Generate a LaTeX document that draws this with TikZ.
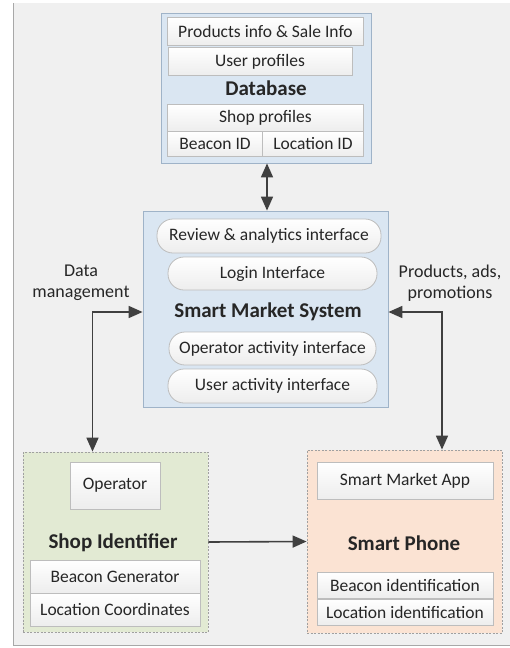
\documentclass[tikz,border=0pt]{standalone}
\usepackage{fontspec}
\setmainfont{Carlito}
\usetikzlibrary{arrows.meta,positioning,calc}
\definecolor{panelbg}{HTML}{F0F0F0}
\definecolor{paneledge}{HTML}{A8A8A8}
\definecolor{bluefill}{HTML}{DAE6F2}
\definecolor{blueedge}{HTML}{9FB3C8}
\definecolor{greenfill}{HTML}{E2EAD3}
\definecolor{orangefill}{HTML}{FBE3D3}
\definecolor{dashedge}{HTML}{A0A0A0}
\definecolor{itemedge}{HTML}{BDBDBD}
\definecolor{ink}{HTML}{262626}
\definecolor{arrowink}{HTML}{404040}
\tikzset{
  group/.style={draw=blueedge, fill=bluefill, line width=0.8pt, inner sep=0pt},
  dgroup/.style={draw=dashedge, dashed, dash pattern=on 2pt off 1.5pt, line width=0.8pt, inner sep=0pt},
  item/.style={draw=itemedge, line width=0.8pt, top color=white, bottom color=white!93!black,
    inner sep=0pt, font=\fontsize{17.5}{19}\selectfont, text=ink},
  pill/.style={item, rounded corners=16pt},
  title/.style={font=\fontsize{21}{23}\selectfont\bfseries, text=ink, inner sep=0pt},
  note/.style={font=\fontsize{18}{21}\selectfont, text=ink, align=center, inner sep=0pt},
  link/.style={draw=arrowink, line width=1.6pt, arrows={-Triangle[length=14pt,width=12pt]}},
  biglink/.style={link, arrows={Triangle[length=14pt,width=12pt]-Triangle[length=14pt,width=12pt]}},
}
\begin{document}
\begin{tikzpicture}[x=1pt,y=-1pt]
\useasboundingbox (0,0) rectangle (510,648);
% background panel
\fill[panelbg] (13,3) rectangle (510,645);
\draw[paneledge, line width=1pt] (13,3) -- (13,645) -- (510,645);

% Database
\node[group, minimum width=210pt, minimum height=150pt] (db) at (266,88) {};
\node[item, minimum width=196pt, minimum height=28pt] (prod) at (265.5,31.5) {Products info \& Sale Info};
\node[item, minimum width=184pt, minimum height=28pt] (users) at (260,61.5) {User profiles};
\node[title] (dbt) at (266,88) {Database};
\node[item, minimum width=196pt, minimum height=27pt] (shops) at (265.5,118) {Shop profiles};
\node[item, minimum width=95pt, minimum height=25pt] (bid) at (215,144) {Beacon ID};
\node[item, minimum width=101pt, minimum height=25pt] (lid) at (313,144) {Location ID};

% Smart Market System
\node[group, minimum width=245pt, minimum height=196pt] (sms) at (265.5,309) {};
\node[pill, minimum width=224pt, minimum height=34pt] (rev) at (269,236) {Review \& analytics interface};
\node[pill, minimum width=209pt, minimum height=33pt] (login) at (272.5,273.5) {Login Interface};
\node[title] (smst) at (268,312) {Smart Market System};
\node[pill, minimum width=207pt, minimum height=33pt] (opi) at (272.5,348.5) {Operator activity interface};
\node[pill, minimum width=209pt, minimum height=34pt] (usi) at (272.5,386) {User activity interface};

% Shop Identifier
\node[dgroup, fill=greenfill, minimum width=185pt, minimum height=180pt] (shop) at (115.5,542) {};
\node[item, minimum width=90pt, minimum height=47pt] (oper) at (115,485.5) {Operator};
\node[title] (shopt) at (113,543) {Shop Identifier};
\node[item, minimum width=170pt, minimum height=33pt] (bgen) at (115,576.5) {Beacon Generator};
\node[item, minimum width=170pt, minimum height=33pt] (lcoord) at (115,609.5) {Location Coordinates};

% Smart Phone
\node[dgroup, fill=orangefill, minimum width=195pt, minimum height=183pt] (phone) at (404.5,541.5) {};
\node[item, minimum width=176pt, minimum height=37pt] (app) at (405,480.5) {Smart Market App};
\node[title] (phonet) at (404,543) {Smart Phone};
\node[item, minimum width=176pt, minimum height=26pt] (bident) at (405,585) {Beacon identification};
\node[item, minimum width=176pt, minimum height=26pt] (lident) at (405,612) {Location identification};

% side labels
\node[note] (dm) at (81,283) {Data\\management};
\node[note] (pap) at (450,283) {Products, ads,\\promotions};

% connectors
\draw[biglink] (db.south -| 267,0) -- (sms.north -| 267,0);
\draw[biglink] ([xshift=-23pt]shop.north) |- ([yshift=-3pt]sms.west);
\draw[biglink] ([xshift=37.5pt]phone.north) |- ([yshift=-3pt]sms.east);
\draw[link] (shop.east) -- (phone.west);
\end{tikzpicture}
\end{document}
